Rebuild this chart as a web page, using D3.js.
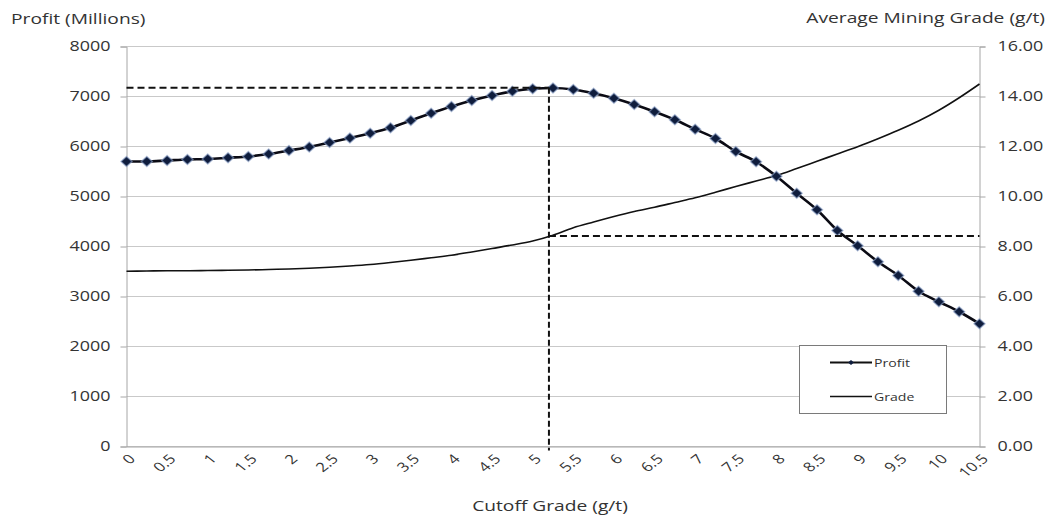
<!DOCTYPE html>
<html><head><meta charset="utf-8">
<script src="https://cdn.jsdelivr.net/npm/d3@7"></script>
<style>
html,body{margin:0;padding:0;background:#fff;}
text{font-family:"Open Sans","Noto Sans",sans-serif;}
</style></head><body>
<svg id="chart" width="1050" height="518"></svg>
<script>
// ---- data ----
const cutoff = [0,0.25,0.5,0.75,1,1.25,1.5,1.75,2,2.25,2.5,2.75,3,3.25,3.5,3.75,4,4.25,4.5,4.75,5,5.25,5.5,5.75,6,6.25,6.5,6.75,7,7.25,7.5,7.75,8,8.25,8.5,8.75,9,9.25,9.5,9.75,10,10.25,10.5];
const profit = [5700,5700,5720,5740,5750,5775,5800,5850,5920,5990,6080,6170,6265,6375,6520,6665,6800,6920,7020,7105,7155,7170,7140,7065,6965,6840,6695,6535,6345,6160,5900,5695,5405,5065,4735,4320,4015,3695,3420,3105,2895,2695,2455];
const grade = [7.01,7.02,7.03,7.03,7.04,7.05,7.06,7.08,7.10,7.13,7.17,7.22,7.28,7.36,7.45,7.55,7.65,7.78,7.92,8.06,8.22,8.45,8.75,8.98,9.20,9.40,9.57,9.76,9.95,10.17,10.40,10.62,10.84,11.12,11.41,11.70,11.99,12.31,12.65,13.02,13.45,13.95,14.50];
const xTickLabels = [0,0.5,1,1.5,2,2.5,3,3.5,4,4.5,5,5.5,6,6.5,7,7.5,8,8.5,9,9.5,10,10.5];
const profitTicks = [0,1000,2000,3000,4000,5000,6000,7000,8000];
const gradeTicks = [0,2,4,6,8,10,12,14,16];
const optimumCutoff = 5.2;
const optimumProfit = 7175;
const optimumGrade = 8.42;
const seriesNames = ["Profit","Grade"];
const titles = {left:"Profit (Millions)", right:"Average Mining Grade (g/t)", x:"Cutoff Grade (g/t)"};

// ---- layout ----
const SX = 1.28; // horizontal stretch of the original picture's text
const L = 126.5, R = 979.5, T = 46.5, B = 446.5;
const svg = d3.select("#chart");
const x = d3.scaleLinear().domain([0,10.5]).range([L,R]);
const yP = d3.scaleLinear().domain([0,8000]).range([B,T]);
const yG = d3.scaleLinear().domain([0,16]).range([B,T]);

// gridlines
svg.append("g").selectAll("line").data(profitTicks).join("line")
  .attr("x1",L).attr("x2",R).attr("y1",d=>yP(d)).attr("y2",d=>yP(d))
  .attr("stroke","#c9c9c9").attr("stroke-width",1);

// left axis
const axL = svg.append("g").attr("transform",`translate(${L},0)`)
  .call(d3.axisLeft(yP).tickValues(profitTicks).tickSize(6).tickPadding(10).tickFormat(d3.format("d")));
axL.select(".domain").attr("stroke","#a6a6a6");
axL.selectAll(".tick line").attr("stroke","#a6a6a6");
axL.selectAll("text").attr("fill","#333").style("font-size","14px")
  .attr("x",0).attr("transform",`translate(-16,0) scale(${SX},1)`);

// right axis
const axR = svg.append("g").attr("transform",`translate(${R},0)`)
  .call(d3.axisRight(yG).tickValues(gradeTicks).tickSize(6).tickPadding(12).tickFormat(d3.format(".2f")));
axR.select(".domain").attr("stroke","#a6a6a6");
axR.selectAll(".tick line").attr("stroke","#a6a6a6");
axR.selectAll("text").attr("fill","#333").style("font-size","14px")
  .attr("x",0).attr("transform",`translate(18,0) scale(${SX},1)`);

// bottom axis
const axB = svg.append("g").attr("transform",`translate(0,${B})`)
  .call(d3.axisBottom(x).tickValues(xTickLabels).tickSize(0).tickFormat(d=>String(d)));
axB.select(".domain").attr("stroke","#a6a6a6");
axB.selectAll("text").attr("fill","#333").style("font-size","13px")
  .attr("text-anchor","end").attr("dy","0.35em").attr("y",0)
  .attr("transform",`translate(5,10) scale(${SX},1) rotate(-45)`);

// grade line
svg.append("path").datum(cutoff.map((c,i)=>[c,grade[i]]))
  .attr("fill","none").attr("stroke","#111").attr("stroke-width",1.6)
  .attr("d", d3.line().x(d=>x(d[0])).y(d=>yG(d[1])).curve(d3.curveMonotoneX));

// profit line
const pData = cutoff.map((c,i)=>[c,profit[i]]);
svg.append("path").datum(pData)
  .attr("fill","none").attr("stroke","#0b0b14").attr("stroke-width",2.6)
  .attr("d", d3.line().x(d=>x(d[0])).y(d=>yP(d[1])).curve(d3.curveMonotoneX));

// markers (square diamonds)
const dia = (w,h)=>`M0,${-h}L${w},0L0,${h}L${-w},0Z`;
svg.append("g").selectAll("path").data(pData).join("path")
  .attr("transform",d=>`translate(${x(d[0])},${yP(d[1])})`)
  .attr("d",dia(5.5,5)).attr("fill","#0f1d3d")
  .attr("stroke","#8aa0c8").attr("stroke-width",1.4).attr("stroke-opacity",0.6);

// dashed reference lines
const dash = svg.append("g").attr("stroke","#111").attr("stroke-width",2).attr("fill","none");
dash.append("line").attr("x1",L).attr("x2",x(optimumCutoff))
  .attr("y1",yP(optimumProfit)).attr("y2",yP(optimumProfit)).attr("stroke-dasharray","7,4");
dash.append("line").attr("x1",x(optimumCutoff)).attr("x2",x(optimumCutoff))
  .attr("y1",yP(optimumProfit)).attr("y2",B+4).attr("stroke-dasharray","6,3");
dash.append("line").attr("x1",x(optimumCutoff)).attr("x2",R)
  .attr("y1",yG(optimumGrade)).attr("y2",yG(optimumGrade)).attr("stroke-dasharray","7,4");

// legend
const lg = svg.append("g");
lg.append("rect").attr("x",799.5).attr("y",345.5).attr("width",147).attr("height",68)
  .attr("fill","#fff").attr("stroke","#7a7a7a").attr("stroke-width",1);
const ly = [362.5,396.5];
seriesNames.forEach((n,i)=>{
  lg.append("line").attr("x1",830).attr("x2",872).attr("y1",ly[i]).attr("y2",ly[i])
    .attr("stroke","#111").attr("stroke-width",i===0?2.2:1.5);
  if(i===0) lg.append("path").attr("transform",`translate(851,${ly[i]})`)
    .attr("d",dia(3,2.5)).attr("fill","#0f1d3d");
  lg.append("text").attr("x",0).attr("y",0).text(n)
    .attr("transform",`translate(874,${ly[i]+4}) scale(${SX},1)`)
    .style("font-size","11px").attr("fill","#333");
});

// titles
const title = (t,px,py,anchor)=>svg.append("text").attr("x",0).attr("y",0)
  .attr("text-anchor",anchor).text(t)
  .attr("transform",`translate(${px},${py}) scale(${SX},1)`)
  .style("font-size","15px").attr("fill","#333");
title(titles.left,11,24,"start");
title(titles.right,1045,23,"end");
title(titles.x,550,511,"middle");
</script>
</body></html>
